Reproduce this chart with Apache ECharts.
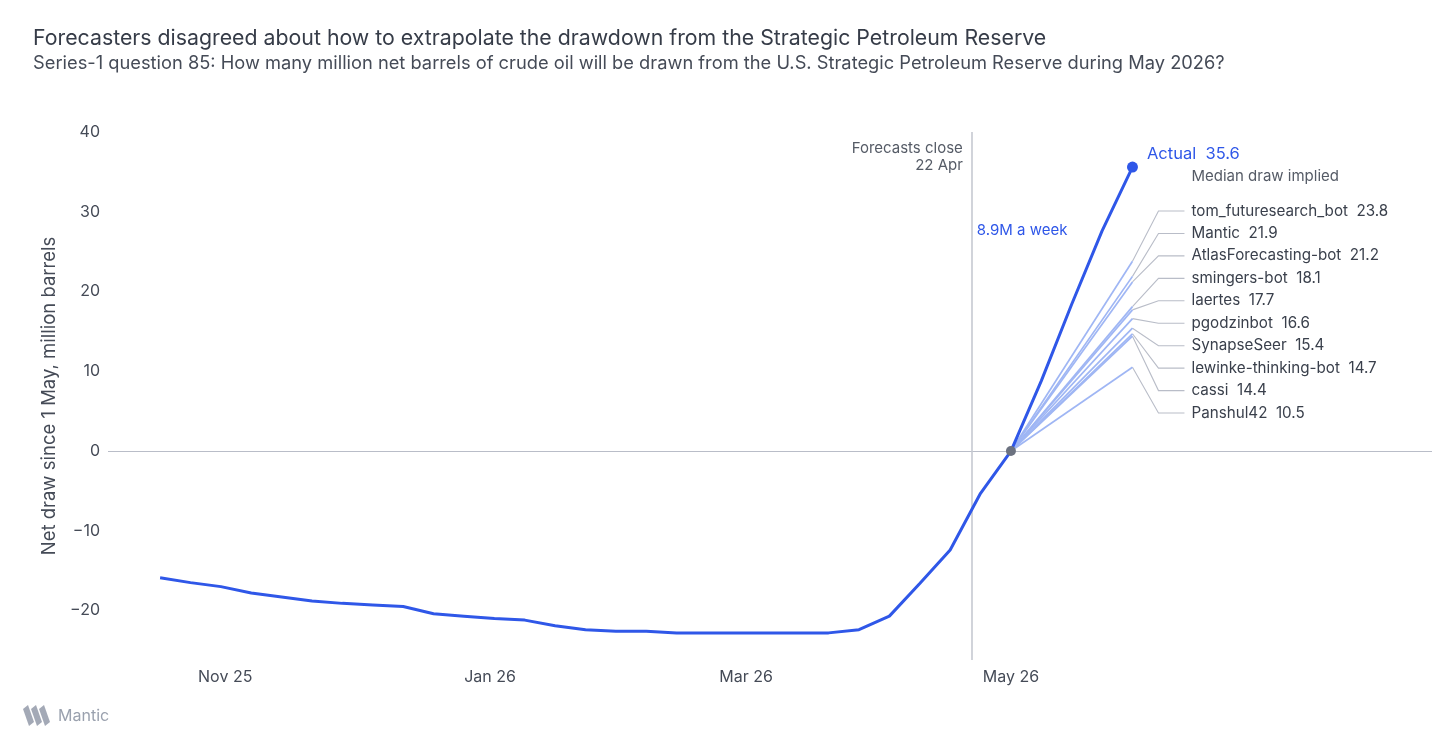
<!DOCTYPE html>
<html>
<head>
<meta charset="utf-8">
<script src="https://cdn.jsdelivr.net/npm/echarts@6/dist/echarts.min.js"></script>
<style>
  html, body { margin: 0; padding: 0; background: #fff; }
  #chart { width: 1456px; height: 750px; }
</style>
</head>
<body>
<div id="chart"></div>
<script>
const FONT = 'Inter, "Noto Sans", sans-serif';

// weekly net draw since 1 May (million barrels), actual
const weeks = [
  '2025-10-17', '2025-10-24', '2025-10-31', '2025-11-07', '2025-11-14', '2025-11-21',
  '2025-11-28', '2025-12-05', '2025-12-12', '2025-12-19', '2025-12-26', '2026-01-02',
  '2026-01-09', '2026-01-16', '2026-01-23', '2026-01-30', '2026-02-06', '2026-02-13',
  '2026-02-20', '2026-02-27', '2026-03-06', '2026-03-13', '2026-03-20', '2026-03-27',
  '2026-04-03', '2026-04-10', '2026-04-17', '2026-04-24', '2026-05-01', '2026-05-08',
  '2026-05-15', '2026-05-22', '2026-05-29',
];
const actualDraw = [
  -15.9, -16.5, -17.0, -17.8, -18.3, -18.8,
  -19.1, -19.3, -19.5, -20.4, -20.7, -21.0,
  -21.2, -21.9, -22.4, -22.6, -22.6, -22.8,
  -22.8, -22.8, -22.8, -22.8, -22.8, -22.4,
  -20.7, -16.6, -12.4, -5.3, 0, 8.8,
  18.4, 27.6, 35.6,
];

// forecasts of the May draw
const forecasters = [
  'tom_futuresearch_bot', 'Mantic', 'AtlasForecasting-bot', 'smingers-bot', 'laertes',
  'pgodzinbot', 'SynapseSeer', 'lewinke-thinking-bot', 'cassi', 'Panshul42',
];
const forecastDraw = [23.8, 21.9, 21.2, 18.1, 17.7, 16.6, 15.4, 14.7, 14.4, 10.5];

const monthStart = '2026-05-01';
const monthEnd = '2026-05-29';
const forecastsClose = '2026-04-22';

const xTickDates = ['2025-11-01', '2026-01-01', '2026-03-01', '2026-05-01'];
const yTicks = [-20, -10, 0, 10, 20, 30, 40];

const MONTHS = ['Jan', 'Feb', 'Mar', 'Apr', 'May', 'Jun', 'Jul', 'Aug', 'Sep', 'Oct', 'Nov', 'Dec'];
const toTime = (s) => {
  const [y, m, d] = s.split('-').map(Number);
  return new Date(y, m - 1, d).getTime();
};

const BLUE = '#2f57e8';
const LIGHT_BLUE = '#9fb6f4';
const GREY_LINE = '#b9bdc8';
const TEXT = '#3a404c';

const weeklyRate = (actualDraw[actualDraw.length - 1] - 0) / 4;

const chart = echarts.init(document.getElementById('chart'));

// one thin line per forecaster, from 0 on 1 May to their forecast at month end
const forecastSeries = forecastDraw.map((v, i) => ({
  name: forecasters[i],
  type: 'line',
  data: [[toTime(monthStart), 0], [toTime(monthEnd), v]],
  symbol: 'none',
  silent: true,
  z: 2,
  lineStyle: { color: LIGHT_BLUE, width: 1.7 },
}));

const option = {
  animation: false,
  textStyle: { fontFamily: FONT },
  title: {
    text: 'Forecasters disagreed about how to extrapolate the drawdown from the Strategic Petroleum Reserve',
    subtext: 'Series-1 question 85: How many million net barrels of crude oil will be drawn from the U.S. Strategic Petroleum Reserve during May 2026?',
    left: 33,
    top: 27,
    padding: 0,
    itemGap: 2,
    textStyle: { fontFamily: FONT, fontSize: 21.3, lineHeight: 24, fontWeight: 'normal', color: '#363c48' },
    subtextStyle: { fontFamily: FONT, fontSize: 18.3, lineHeight: 22, color: '#454b57' },
  },
  grid: { left: 108, right: 24, top: 132, bottom: 90, containLabel: false },
  xAxis: {
    type: 'value',
    min: toTime('2025-10-05'),
    max: toTime('2026-08-06'),
    axisLine: { show: false },
    axisTick: { show: false },
    splitLine: { show: false },
    axisLabel: {
      customValues: xTickDates.map(toTime),
      margin: 9,
      fontSize: 16,
      color: '#454b57',
      fontFamily: FONT,
      formatter(value) {
        const d = new Date(value);
        return `${MONTHS[d.getMonth()]} ${String(d.getFullYear()).slice(2)}`;
      },
    },
  },
  yAxis: {
    type: 'value',
    min: -26.2,
    max: 40,
    name: 'Net draw since 1 May, million barrels',
    nameLocation: 'middle',
    nameGap: 49,
    nameTextStyle: { fontSize: 18.5, color: '#454b57', fontFamily: FONT },
    axisLine: { show: false },
    axisTick: { show: false },
    splitLine: { show: false },
    axisLabel: {
      customValues: yTicks,
      margin: 8,
      fontSize: 16,
      color: '#454b57',
      fontFamily: FONT,
      formatter: (v) => (v < 0 ? `\u2212${Math.abs(v)}` : `${v}`),
    },
  },
  graphic: [
    {
      type: 'group',
      left: 23,
      top: 705,
      children: [0, 1, 2].map((i) => ({
        type: 'polygon',
        shape: {
          points: [[i * 8, 4], [i * 8 + 5, 0], [i * 8 + 11, 17], [i * 8 + 6, 21]],
        },
        style: { fill: '#a3a9b6' },
      })),
    },
    {
      type: 'text',
      left: 58,
      top: 708,
      style: { text: 'Mantic', fontSize: 16, fill: '#9aa1ae', fontFamily: FONT },
    },
  ],
  series: [
    ...forecastSeries,
    {
      name: 'Actual',
      type: 'line',
      data: weeks.map((w, i) => [toTime(w), actualDraw[i]]),
      symbol: 'none',
      z: 5,
      lineStyle: { color: BLUE, width: 3 },
      markLine: {
        silent: true,
        symbol: 'none',
        label: { show: false },
        data: [
          { yAxis: 0, lineStyle: { color: GREY_LINE, width: 1.2, type: 'solid' } },
          { xAxis: toTime(forecastsClose), lineStyle: { color: '#c6c9d1', width: 1.6, type: 'solid' } },
        ],
      },
    },
    {
      // actual end point and its label
      type: 'scatter',
      data: [[toTime(monthEnd), actualDraw[actualDraw.length - 1]]],
      symbolSize: 11,
      z: 6,
      itemStyle: { color: BLUE, opacity: 1 },
      label: {
        show: true,
        position: 'right',
        distance: 9,
        offset: [0, -13],
        formatter: (p) => `Actual  ${p.value[1]}`,
        fontSize: 16.5,
        color: BLUE,
        fontFamily: FONT,
      },
    },
    {
      // start of the month
      type: 'scatter',
      data: [[toTime(monthStart), 0]],
      symbolSize: 10,
      z: 7,
      itemStyle: { color: '#6c7280', opacity: 1 },
    },
    {
      // connector lines and forecaster labels
      type: 'custom',
      z: 1,
      silent: true,
      data: forecastDraw.map((v, i) => [toTime(monthEnd), v, i]),
      renderItem(params, api) {
        const p = api.coord([api.value(0), api.value(1)]);
        const i = api.value(2);
        const top = api.coord([api.value(0), 40])[1];
        const ly = top + 79 + i * 22.45;
        const children = [
          {
            type: 'polyline',
            shape: { points: [[p[0], p[1]], [p[0] + 26, ly], [p[0] + 52, ly]] },
            style: { stroke: GREY_LINE, lineWidth: 1.1, fill: null },
          },
          {
            type: 'text',
            x: p[0] + 59,
            y: ly,
            style: {
              text: `${forecasters[i]}  ${forecastDraw[i]}`,
              fontSize: 15.2,
              fill: TEXT,
              fontFamily: FONT,
              verticalAlign: 'middle',
            },
          },
        ];
        if (i === 0) {
          children.push({
            type: 'text',
            x: p[0] + 59,
            y: ly - 35,
            style: {
              text: 'Median draw implied',
              fontSize: 15,
              fill: '#555b66',
              fontFamily: FONT,
              verticalAlign: 'middle',
            },
          });
        }
        return { type: 'group', children };
      },
    },
    {
      // annotations by the forecast close line
      type: 'custom',
      silent: true,
      data: [[toTime(forecastsClose), 40]],
      renderItem(params, api) {
        const p = api.coord([api.value(0), api.value(1)]);
        return {
          type: 'group',
          children: [
            {
              type: 'text',
              x: p[0] - 9,
              y: p[1] + 25,
              style: {
                text: 'Forecasts close\n22 Apr',
                align: 'right',
                verticalAlign: 'middle',
                lineHeight: 17,
                fontSize: 15,
                fill: '#555b66',
                fontFamily: FONT,
              },
            },
            {
              type: 'text',
              x: p[0] + 5,
              y: p[1] + 98,
              style: {
                text: `${weeklyRate.toFixed(1)}M a week`,
                verticalAlign: 'middle',
                fontSize: 15,
                fill: BLUE,
                fontFamily: FONT,
              },
            },
          ],
        };
      },
    },
  ],
};

chart.setOption(option);
</script>
</body>
</html>
